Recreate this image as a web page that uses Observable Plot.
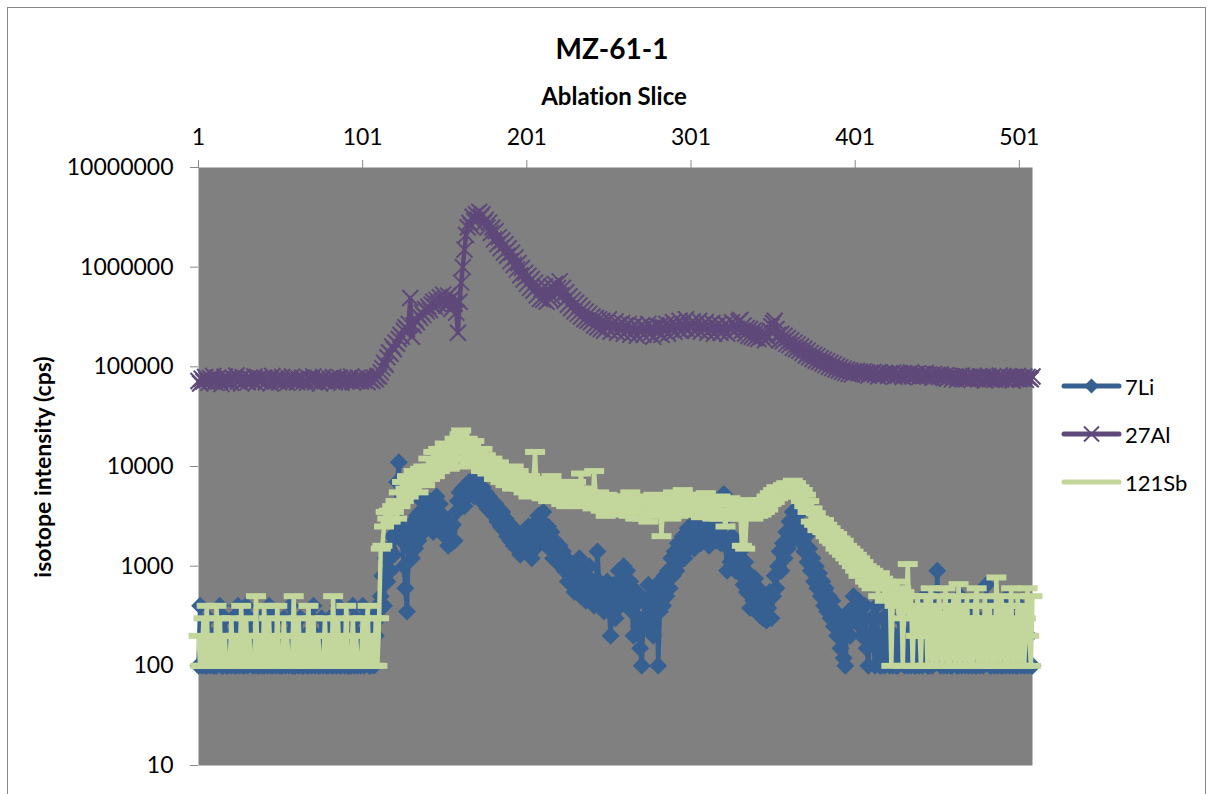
<!DOCTYPE html>
<html>
<head>
<meta charset="utf-8">
<script src="https://cdn.jsdelivr.net/npm/d3@7"></script>
<script src="https://cdn.jsdelivr.net/npm/@observablehq/plot@0.6"></script>
<style>
  body { margin: 0; background: #fff; font-family: Lato, "Open Sans", sans-serif; font-variant-ligatures: none; }
  #chart { position: relative; width: 1213px; height: 794px; overflow: hidden; background: #fff; }
  #border { position: absolute; left: 7px; top: 7px; width: 1199px; height: 820px; border: 1.5px solid #888; box-sizing: border-box; }
  #chart svg { position: absolute; left: 0; top: 0; font-variant-ligatures: none; }
</style>
</head>
<body>
<div id="chart"><div id="border"></div></div>
<script>
// Ablation profile of spot MZ-61-1: isotope intensity (cps) per ablation slice
const chartTitle = "MZ-61-1";
const xTitle = "Ablation Slice";
const yTitle = "isotope intensity (cps)";
const seriesNames = ["7Li", "27Al", "121Sb"];
const seriesColors = ["#376092", "#5F497A", "#C3D69B"];
const xTicks = [1, 101, 201, 301, 401, 501];
const yTicks = [10, 100, 1000, 10000, 100000, 1000000, 10000000];

// 7Li, slices 1–509
const li7 = [
  100,400,100,200,100,100,300,100,200,100,100,100,200,400,100,100,300,100,100,200,
  100,300,100,100,400,100,200,100,100,400,100,300,200,100,100,200,100,100,300,100,
  100,200,100,400,100,100,300,100,200,100,100,100,300,100,200,100,400,100,100,100,
  200,100,300,100,100,200,100,100,300,100,400,100,200,100,100,300,100,200,100,100,
  300,100,100,200,100,400,100,100,300,100,200,100,100,100,400,100,300,100,200,100,
  400,100,200,300,100,100,300,100,200,400,300,500,800,400,1200,700,1500,900,2000,1300,
  3000,7000,11000,2500,1800,1000,600,350,1500,2200,1200,2800,1500,3200,1800,3500,4500,2200,3000,4500,
  2500,4500,3200,2200,4000,5000,2800,4200,2500,3200,2000,2800,1600,2400,1700,2600,1800,3500,4500,5500,
  4500,6000,4000,6500,5000,7000,5500,7500,5000,6500,5500,8000,5000,6200,4200,5500,3800,5000,3500,4500,
  3200,4200,2800,3800,2500,3500,2300,3000,2000,2700,1800,2500,1600,2200,1500,2000,1300,1900,1500,2300,
  1400,2500,1800,1200,2200,1500,2800,3200,1800,2800,3500,2000,1600,2500,1500,2200,1200,1800,1500,1100,
  1600,1000,1400,900,1200,700,1100,800,1000,550,900,700,1200,500,800,600,450,700,1000,500,
  700,400,600,1400,700,450,650,350,550,700,400,200,350,650,300,500,900,400,750,1000,
  550,900,450,700,350,200,400,550,250,150,100,300,450,250,650,500,300,200,500,650,
  100,350,600,400,800,500,900,600,1200,800,1400,900,1700,1100,1500,2000,1200,1800,2400,1500,
  2000,2600,1500,2800,1900,3200,1700,2500,2900,1800,2600,1600,2400,3300,2200,1800,3000,2100,1700,2800,
  5300,1600,900,1700,1100,2000,1200,900,1700,1000,1400,800,650,1100,550,850,380,650,450,750,
  400,600,320,480,300,420,285,380,550,300,500,800,600,1000,1400,900,1700,1200,2200,1500,
  2800,1800,3500,2000,2500,3200,1800,2600,1800,1400,2000,1100,1500,900,1200,700,1000,600,850,500,
  700,400,600,350,500,300,450,250,350,200,300,150,250,120,100,250,350,200,300,500,
  400,300,450,250,200,300,400,150,100,200,300,200,100,400,200,100,100,300,100,200,
  400,100,300,100,200,100,100,300,500,200,100,200,100,400,100,300,100,100,200,100,
  300,100,500,200,100,100,400,100,300,200,900,200,100,300,100,200,100,400,100,100,
  300,200,100,100,500,100,200,100,300,100,200,100,400,100,100,300,100,200,100,300,
  650,200,100,100,400,100,200,100,300,100,100,200,100,500,100,300,100,200,100,100,
  400,100,200,100,300,100,200,100,100
];

// 27Al, slices 1–509
const al27 = [
  72000,68000,76000,71000,79000,74000,69000,77000,73000,81000,70000,75000,78000,72000,67000,74000,80000,71000,76000,73000,
  69000,77000,74000,82000,71000,75000,68000,79000,73000,76000,70000,78000,74000,72000,80000,69000,75000,77000,71000,74000,
  78000,70000,73000,76000,68000,81000,74000,72000,77000,70000,75000,79000,71000,74000,69000,77000,73000,80000,72000,75000,
  70000,76000,73000,78000,71000,74000,69000,77000,75000,72000,80000,70000,74000,77000,68000,75000,79000,72000,74000,71000,
  76000,73000,79000,70000,75000,72000,78000,69000,74000,77000,71000,76000,73000,80000,70000,75000,72000,78000,74000,71000,
  77000,73000,79000,70000,76000,74000,72000,78000,75000,81000,80000,88000,97000,110000,105000,125000,140000,135000,160000,150000,
  175000,170000,190000,210000,200000,230000,250000,240000,270000,490000,200000,260000,300000,280000,330000,310000,350000,330000,380000,360000,
  400000,370000,420000,450000,400000,470000,430000,500000,450000,530000,480000,410000,520000,460000,380000,500000,430000,350000,220000,450000,
  700000,1000000,1500000,2100000,2500000,2800000,2600000,3200000,2900000,3400000,3000000,3600000,3200000,3400000,2800000,3000000,2500000,2800000,2200000,2500000,
  1900000,2300000,1700000,2000000,1550000,1850000,1400000,1700000,1300000,1550000,1150000,1400000,1050000,1250000,950000,1100000,830000,980000,750000,880000,
  680000,820000,620000,760000,580000,700000,520000,650000,480000,600000,470000,640000,450000,600000,480000,640000,500000,680000,540000,620000,
  720000,520000,620000,460000,560000,420000,510000,390000,470000,360000,440000,340000,410000,320000,380000,300000,360000,290000,340000,280000,
  320000,260000,310000,250000,300000,240000,290000,230000,280000,250000,300000,225000,270000,240000,285000,220000,265000,235000,275000,215000,
  260000,230000,270000,210000,250000,225000,265000,205000,245000,230000,260000,210000,250000,225000,270000,215000,245000,200000,240000,260000,
  220000,255000,210000,250000,230000,270000,215000,260000,235000,280000,225000,265000,240000,290000,230000,270000,245000,300000,235000,265000,
  250000,285000,230000,270000,240000,290000,225000,265000,245000,280000,220000,260000,240000,275000,215000,255000,235000,270000,220000,250000,
  230000,270000,215000,255000,240000,280000,225000,265000,240000,285000,295000,230000,260000,215000,245000,205000,240000,200000,230000,195000,
  225000,190000,220000,200000,215000,185000,210000,195000,230000,255000,275000,290000,240000,210000,185000,215000,180000,205000,170000,195000,
  165000,185000,155000,175000,150000,168000,145000,160000,138000,152000,130000,145000,125000,138000,120000,132000,115000,128000,112000,122000,
  108000,118000,104000,114000,100000,110000,97000,106000,94000,102000,92000,99000,89000,96000,87000,94000,85000,92000,84000,90000,
  88000,91000,87000,89000,86000,90000,84000,88000,82000,87000,85000,89000,83000,86000,80000,88000,84000,82000,87000,85000,
  81000,86000,83000,88000,80000,85000,82000,87000,84000,79000,86000,83000,81000,85000,88000,80000,84000,82000,86000,79000,
  83000,85000,81000,87000,80000,84000,82000,78000,85000,81000,83000,79000,84000,80000,77000,82000,76000,79000,81000,75000,
  78000,80000,74000,79000,77000,82000,75000,78000,80000,76000,79000,74000,81000,77000,78000,75000,80000,76000,79000,73000,
  78000,81000,75000,77000,80000,74000,78000,76000,82000,75000,79000,77000,74000,80000,76000,78000,73000,79000,77000,81000,
  75000,78000,76000,80000,74000,79000,77000,75000,80000
];

// 121Sb, slices 1–509
const sb121 = [
  200,100,100,300,100,400,100,100,200,100,100,400,100,300,100,100,200,100,100,100,
  300,100,100,200,100,100,400,100,100,300,100,200,100,100,100,500,100,200,100,100,
  400,100,100,300,100,100,200,100,400,100,100,100,300,100,200,100,100,100,500,100,
  100,300,100,100,200,100,100,400,100,100,300,100,100,200,100,100,100,300,100,200,
  100,100,500,100,100,300,100,200,100,100,400,100,100,100,300,100,200,100,100,100,
  300,100,100,400,100,200,100,100,300,100,300,1500,1600,2500,3500,3000,3600,2800,4000,3500,
  4500,3000,5500,4000,7000,4500,6000,8000,5000,7500,6000,9000,6500,8500,5500,9500,7000,10000,6500,8000,
  12000,7500,10000,14000,8000,11000,15000,9000,13000,10000,17000,11000,14000,9500,16000,12000,19000,10000,15000,21000,
  23000,12000,17000,14000,19000,11000,16000,13000,18000,10000,14000,12000,9000,15000,10000,13000,8500,11000,9000,12000,
  7500,10000,8000,11000,7000,9500,8000,6500,9000,7000,8500,6000,10000,7000,6500,9000,6000,8000,5500,7500,
  6500,5000,8000,6000,7000,14000,5500,7500,6000,4800,7000,5000,6500,4500,6000,8000,5000,7000,4500,6500,
  5500,4200,7000,5000,4000,6500,4500,6000,4200,5500,7000,4500,6000,8500,4800,4000,6000,4200,5500,4500,
  3800,9000,5000,4000,5500,3600,4800,4200,3200,5200,3800,4600,3400,5000,3700,4800,3300,4400,3600,5000,
  3400,4600,3200,5500,3700,4300,3000,4800,3500,4200,3000,5000,3600,4400,2800,4600,3400,5200,3800,4000,
  3200,4800,2000,4200,3600,5000,3400,4600,3000,5500,3800,4300,3200,5000,3600,5800,3800,4500,3300,5200,
  3600,4800,3300,5200,3700,4500,3100,4900,3500,5400,3300,4600,3800,3000,4800,3400,4400,3000,5000,3600,
  3200,2500,4300,3600,4800,3000,4200,3500,3000,4500,3400,1600,4000,1500,3500,4600,3200,4200,3000,4400,
  3800,3200,4600,3300,4300,3500,5000,3700,5400,4200,5800,4400,6200,4800,6000,5000,6500,5200,6800,5500,
  6500,5200,7200,5500,6800,5000,6200,4500,5800,4000,5200,3500,4500,2800,3800,2600,3400,2300,3000,2600,
  2200,2900,2000,2600,1800,2400,1700,2200,1500,2100,1400,1900,1300,1800,1200,1600,1100,1500,1000,1400,
  900,1300,800,1200,850,1100,700,1000,650,950,600,900,700,800,500,850,600,750,450,700,
  500,650,100,550,400,700,500,300,600,100,550,350,1050,300,500,100,400,200,500,300,
  100,400,200,500,100,300,600,100,200,400,100,500,300,100,200,600,100,400,100,300,
  500,100,200,660,100,300,400,100,500,200,100,300,100,400,600,100,200,300,100,500,
  100,200,400,100,300,100,770,200,100,500,300,100,400,100,200,600,100,300,100,500,
  200,100,400,100,300,600,200,100,500
];

const seriesValues = [li7, al27, sb121];
const nSlices = Math.max(...seriesValues.map(v => v.length));

// Marker shapes; the symbol size is π·r², so r is the half-extent of each shape
const half = size => Math.sqrt(size / Math.PI);
const diamondShape = { draw(ctx, size) { const r = half(size); ctx.moveTo(0, -r); ctx.lineTo(r, 0); ctx.lineTo(0, r); ctx.lineTo(-r, 0); ctx.closePath(); } };
const crossShape = { draw(ctx, size) { const r = half(size); ctx.moveTo(-r, -r); ctx.lineTo(r, r); ctx.moveTo(r, -r); ctx.lineTo(-r, r); } };
const dashShape = { draw(ctx, size) { const r = half(size); const h = r * 0.3; ctx.rect(-r, -h, 2 * r, 2 * h); } };

const rowsOf = (values, name) => values.map((v, i) => ({ slice: i + 1, value: v, series: name }));
const liRows = rowsOf(li7, seriesNames[0]);
const alRows = rowsOf(al27, seriesNames[1]);
const sbRows = rowsOf(sb121, seriesNames[2]);

const lineOpts = (color) => ({ x: "slice", y: "value", stroke: color, strokeWidth: 4.5, strokeLinejoin: "round", strokeLinecap: "round" });

const plot = Plot.plot({
  width: 1213,
  height: 794,
  marginTop: 167,
  marginBottom: 29,
  marginLeft: 198,
  marginRight: 181,
  style: { fontFamily: "Lato, 'Open Sans', sans-serif", fontSize: "23px", background: "transparent", color: "#000", overflow: "visible" },
  x: { domain: [1, nSlices] },
  y: { type: "log", domain: [10, 10000000] },
  marks: [
    Plot.frame({ fill: "#808080", stroke: null }),
    Plot.axisX({ anchor: "top", ticks: xTicks, tickSize: 8, tickPadding: 15, stroke: "#888", label: null, tickFormat: d => String(d) }),
    Plot.axisY({ ticks: yTicks, tickSize: 8, tickPadding: 17, stroke: "#888", label: null, tickFormat: d => String(d) }),
    Plot.line(liRows, lineOpts(seriesColors[0])),
    Plot.dot(liRows, { x: "slice", y: "value", symbol: diamondShape, r: 9, fill: seriesColors[0], stroke: null }),
    Plot.line(alRows, lineOpts(seriesColors[1])),
    Plot.dot(alRows, { x: "slice", y: "value", symbol: crossShape, r: 8, fill: "none", stroke: seriesColors[1], strokeWidth: 2 }),
    Plot.line(sbRows, lineOpts(seriesColors[2])),
    Plot.dot(sbRows, { x: "slice", y: "value", symbol: dashShape, r: 10, fill: seriesColors[2], stroke: null })
  ]
});

const chart = document.getElementById("chart");
chart.appendChild(plot);

// Titles and legend drawn on an overlay
const overlay = d3.select(chart).append("svg")
  .attr("width", 1213).attr("height", 794)
  .style("font-family", "Lato, 'Open Sans', sans-serif");

overlay.append("text").attr("x", 612).attr("y", 48)
  .attr("text-anchor", "middle").attr("dominant-baseline", "central")
  .attr("font-size", 28).attr("font-weight", "bold").text(chartTitle);

overlay.append("text").attr("x", 614).attr("y", 95)
  .attr("text-anchor", "middle").attr("dominant-baseline", "central")
  .attr("font-size", 24).attr("font-weight", "bold").text(xTitle);

overlay.append("text").attr("transform", "translate(42,467) rotate(-90)")
  .attr("text-anchor", "middle").attr("dominant-baseline", "central")
  .attr("font-size", 23).attr("font-weight", "bold").text(yTitle);

const legendShapes = [diamondShape, crossShape, null];
seriesNames.forEach((name, i) => {
  const y = 386 + i * 48;
  const g = overlay.append("g").attr("transform", `translate(0,${y})`);
  g.append("line").attr("x1", 1064).attr("x2", 1119).attr("y1", 0).attr("y2", 0)
    .attr("stroke", seriesColors[i]).attr("stroke-width", 5).attr("stroke-linecap", "round");
  if (legendShapes[i]) {
    const path = d3.symbol(legendShapes[i], Math.PI * 7.5 * 7.5)();
    const m = g.append("path").attr("d", path).attr("transform", "translate(1091.5,0)");
    if (i === 0) m.attr("fill", seriesColors[i]);
    else m.attr("fill", "none").attr("stroke", seriesColors[i]).attr("stroke-width", 2);
  }
  g.append("text").attr("x", 1125).attr("y", 0).attr("dominant-baseline", "central")
    .attr("font-size", 22).text(name);
});
</script>
</body>
</html>
